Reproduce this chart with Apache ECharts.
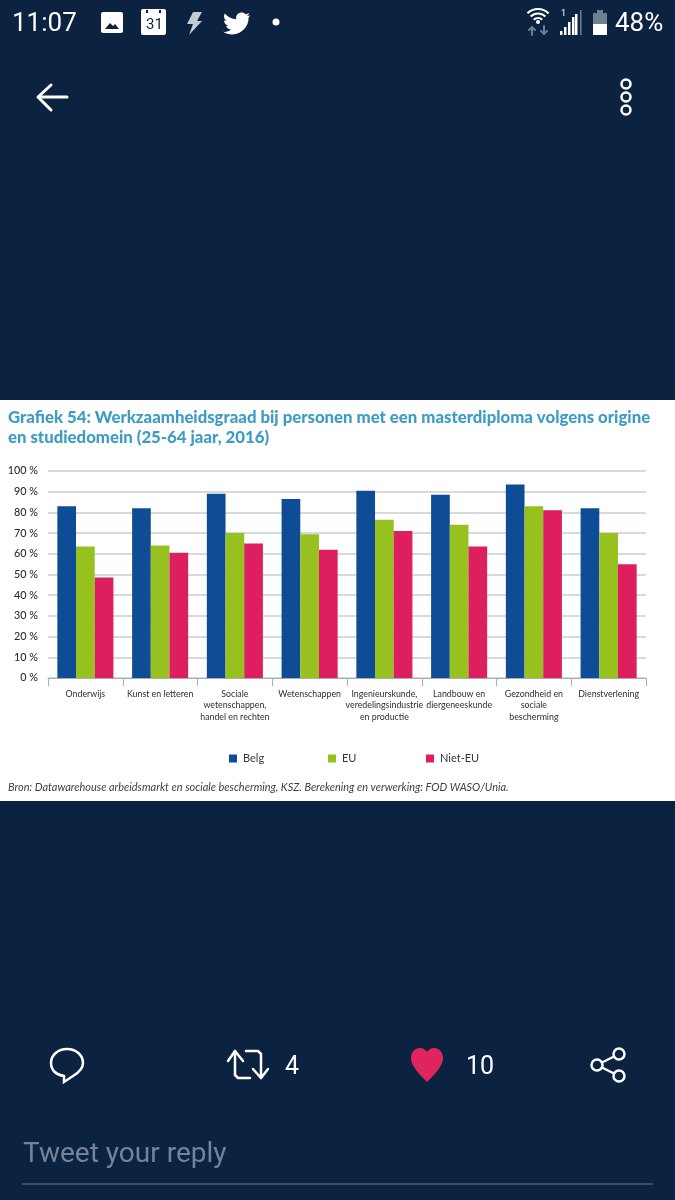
<!DOCTYPE html>
<html><head><meta charset="utf-8">
<style>html,body{margin:0;padding:0;background:#0b2240}#c{width:675px;height:1200px}</style>
<script src="https://cdn.jsdelivr.net/npm/echarts@6/dist/echarts.min.js"></script>
</head><body><div id="c"></div>
<script>
const categories = ['Onderwijs','Kunst en letteren','Sociale\nwetenschappen,\nhandel en rechten','Wetenschappen','Ingenieurskunde,\nveredelingsindustrie\nen productie','Landbouw en\ndiergeneeskunde','Gezondheid en\nsociale\nbescherming','Dienstverlening'];
const belg = [83,82,89,86.5,90.5,88.5,93.5,82];
const eu = [63.5,64,70,69.5,76.5,74,83,70];
const nietEu = [48.5,60.5,65,62,71,63.5,81,55];
const titleText = 'Grafiek 54: Werkzaamheidsgraad bij personen met een masterdiploma volgens origine\nen studiedomein (25-64 jaar, 2016)';
const sourceText = 'Bron: Datawarehouse arbeidsmarkt en sociale bescherming, KSZ. Berekening en verwerking: FOD WASO/Unia.';
const BG='#0b2240', W='#ffffff';
const reg=(name,d)=>echarts.graphic.registerShape(name,echarts.graphic.extendPath(d,{}));
reg('bird','M24 4.6 C23.1 5 22.2 5.2 21.2 5.4 C22.2 4.7 23 3.7 23.4 2.6 C22.4 3.2 21.4 3.6 20.200 3.800 C18.300 1.800 15.200 1.700 13.200 3.600 C11.900 4.800 11.400 6.600 11.800 8.300 C7.800 8.100 4.100 6.200 1.600 3.200 C.3 5.400 1 8.300 3.100 9.700 C2.300 9.700 1.600 9.500 .9 9.100 C.9 11.500 2.600 13.500 4.900 14 C4.200 14.200 3.400 14.200 2.700 14.100 C3.300 16.100 5.200 17.500 7.300 17.500 C5.300 19.100 2.700 19.800 .1 19.500 C7 23.900 16.100 21.900 20.500 15 C22 12.700 22.800 10.100 22.800 7.400 C22.800 7.200 22.800 7 22.800 6.800 C23.400 6.200 23.800 5.400 24 4.600 Z');
reg('bubble','M67 1049c-9 0-16 6-16 14 0 7 5 12 13 13v6l9-6c5-3 10-8 10-13 0-8-7-14-16-14z');
reg('heart','M427 1082c-8-8-16-16-16-24 0-6 4-10 9-10 3 0 6 2 7 4 1-2 4-4 7-4 5 0 9 4 9 10 0 8-8 16-16 24z');
const chart = echarts.init(document.getElementById('c'),null,{renderer:'canvas'});
const stroke=(shape,w,c)=>({type:'polyline',style:{stroke:c||W,lineWidth:w||3,fill:'none',lineCap:'round',lineJoin:'round'},shape});
const txt=(x,y,t,size,c,extra)=>({type:'text',x,y,style:Object.assign({text:t,fill:c||W,font:`${size}px Roboto`,textVerticalAlign:'middle'},extra||{})});
const series=(name,data,color)=>({name,type:'bar',data,barGap:0,barCategoryGap:'25%',itemStyle:{color},z:3});
const leg=(name,left)=>({top:748,left,itemWidth:8,itemHeight:8,icon:'rect',selectedMode:false,
   textStyle:{fontFamily:'Lato',fontSize:11,color:'#33373d',padding:[0,0,0,1]},data:[name]});
const arc=r=>({type:'arc',shape:{cx:538,cy:24,r,startAngle:-2.35,endAngle:-0.79},style:{stroke:W,lineWidth:2.2,fill:'none'}});
chart.setOption({
 animation:false,
 backgroundColor:BG,
 textStyle:{fontFamily:'Lato'},
 title:{text:titleText,left:3,top:402,textStyle:{fontFamily:'Lato',fontWeight:900,fontSize:16.75,lineHeight:20.5,color:'#3f9cc4'}},
 legend:[leg('Belg',224),leg('EU',323),leg('Niet-EU',421)],
 grid:{left:48,right:29,top:471,height:207,containLabel:false},
 xAxis:{type:'category',data:categories,
   axisLine:{lineStyle:{color:'#a9adb3',width:1}},
   axisTick:{show:true,length:8,alignWithLabel:false,lineStyle:{color:'#a9adb3',width:1}},
   axisLabel:{interval:0,margin:10,fontFamily:'Lato',fontSize:8.8,lineHeight:11.5,color:'#2b2e33',verticalAlign:'top'}},
 yAxis:{type:'value',min:0,max:100,interval:10,
   axisLine:{show:false},axisTick:{show:false},
   splitLine:{lineStyle:{color:'#c9ccd2',width:1.5}},
   axisLabel:{margin:10,fontFamily:'Lato',fontSize:10.8,fontWeight:500,color:'#2b2e33',formatter:'{value} %'}},
 series:[series('Belg',belg,'#0f4c96'),series('EU',eu,'#97c11f'),series('Niet-EU',nietEu,'#dd1f5f')],
 graphic:[
  {type:'rect',z:-10,silent:true,shape:{x:0,y:400,width:675,height:401},style:{fill:'#fff'}},
  {type:'text',x:8,y:787,z:5,style:{text:sourceText,fill:'#3a3f47',font:'italic 10.95px Lato',textVerticalAlign:'middle'}},
  txt(12,24,'11:07',26),
  {type:'rect',shape:{x:101,y:12,width:22,height:21,r:2},style:{fill:W}},
  {type:'polygon',shape:{points:[[105,29],[110,23],[113,26],[115,24],[119,29]]},style:{fill:BG}},
  {type:'rect',shape:{x:141,y:9,width:25,height:26,r:2},style:{fill:W}},
  {type:'rect',shape:{x:146,y:10,width:2,height:3},style:{fill:BG}},
  {type:'rect',shape:{x:159,y:10,width:2,height:3},style:{fill:BG}},
  txt(146,25,'31',15,BG,{font:'15px Roboto'}),
  {type:'polygon',shape:{points:[[193,12],[202,12],[197,21],[202,21],[189,35],[193,24],[187,24]]},style:{fill:'#c4cbd3'}},
  {type:'bird',x:223,y:10,scaleX:1.12,scaleY:1.12,style:{fill:W}},
  {type:'circle',shape:{cx:276,cy:22,r:3.5},style:{fill:W}},
  arc(15),arc(10.5),arc(6),
  {type:'circle',shape:{cx:538,cy:22,r:2},style:{fill:W}},
  stroke({points:[[532,35],[532,27],[529,30],[532,27],[535,30]]},2,'#6d7f93'),
  stroke({points:[[544,26],[544,34],[541,31],[544,34],[547,31]]},2,'#6d7f93'),
  ...[[560,31,4],[564,27,8],[568,22,13],[572,17,18],[575,14,21]].map(([x,y,h])=>({type:'rect',shape:{x,y,width:2.5,height:h},style:{fill:W}})),
  {type:'rect',shape:{x:580,y:10,width:1.5,height:25},style:{fill:'#6d7f93'}},
  txt(561,14,'1',9),
  {type:'rect',shape:{x:593,y:13,width:14,height:22,r:1},style:{fill:'#6d7f93'}},
  {type:'rect',shape:{x:597,y:10,width:6,height:4},style:{fill:'#6d7f93'}},
  {type:'rect',shape:{x:593,y:24,width:14,height:11},style:{fill:W}},
  txt(615,24,'48%',26),
  stroke({points:[[67,97],[39,97]]},3),
  stroke({points:[[51,85],[38,97],[51,110]]},3),
  ...[84,97,110].map(cy=>({type:'circle',shape:{cx:626,cy,r:4.5},style:{stroke:W,lineWidth:2.5,fill:'none'}})),
  {type:'bubble',style:{stroke:W,lineWidth:2.5,fill:'none'}},
  stroke({points:[[228,1061],[235,1051],[243,1061]]},2.5),
  stroke({points:[[235,1051],[235,1075],[238,1078],[250,1078]]},2.5),
  stroke({points:[[246,1051],[258,1051],[261,1054],[261,1078]]},2.5),
  stroke({points:[[253,1069],[261,1078],[268,1069]]},2.5),
  txt(285,1068,'4',25),
  {type:'heart',style:{fill:'#e0245e'}},
  txt(466,1068,'10',25),
  stroke({points:[[619,1054],[597,1065],[619,1076]]},2.5),
  ...[[619,1054],[597,1065],[619,1076]].map(([cx,cy])=>({type:'circle',shape:{cx,cy,r:5.5},style:{stroke:W,lineWidth:2.5,fill:BG}})),
  txt(23,1155,'Tweet your reply',28,'#74839a'),
  {type:'rect',shape:{x:22,y:1183,width:631,height:2},style:{fill:'#3c4f68'}}
 ]
});
</script></body></html>
